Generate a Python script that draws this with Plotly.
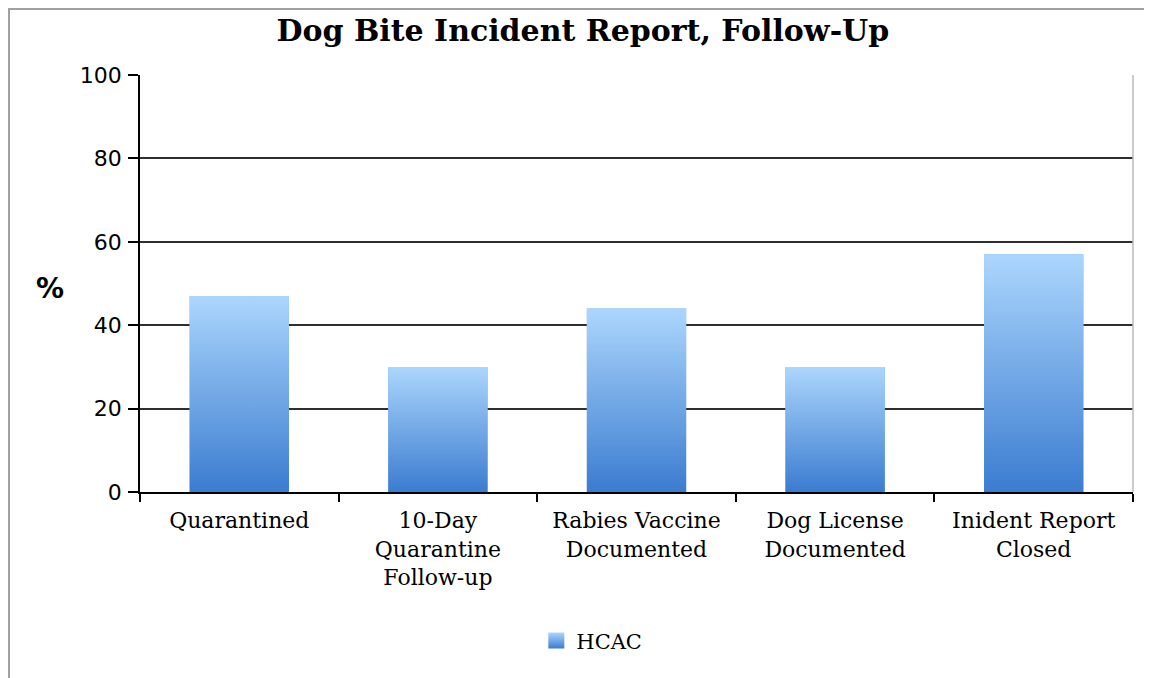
import plotly.graph_objects as go

categories = ["Quarantined", "10-Day<br>Quarantine<br>Follow-up", "Rabies Vaccine<br>Documented",
              "Dog License<br>Documented", "Inident Report<br>Closed"]
hcac_values = [47, 30, 44, 30, 57]
y_ticks = [0, 20, 40, 60, 80, 100]
series_name = "HCAC"

BAR_W = 0.5
DARK = "#3b7cd0"
LIGHT = "#acd6fd"
MID = "#6fa6e4"

positions = list(range(len(categories)))

fig = go.Figure()

# solid bars (data carrier)
fig.add_trace(go.Bar(
    x=positions, y=hcac_values, width=BAR_W, name=series_name,
    marker=dict(color=MID, line=dict(width=0)), showlegend=False,
))

# gradient overlay per bar
for xi, v in zip(positions, hcac_values):
    fig.add_trace(go.Scatter(
        x=[xi - BAR_W / 2, xi + BAR_W / 2, xi + BAR_W / 2, xi - BAR_W / 2, xi - BAR_W / 2],
        y=[0, 0, v, v, 0],
        mode="none", fill="toself",
        fillgradient=dict(type="vertical", colorscale=[[0, DARK], [1, LIGHT]]),
        showlegend=False, hoverinfo="skip",
    ))

# legend swatch (square with gradient)
fig.add_trace(go.Scatter(
    x=[None], y=[None], mode="markers", name=series_name,
    marker=dict(symbol="square", size=16, color=LIGHT,
                gradient=dict(type="vertical", color=DARK), line=dict(width=0)),
))

boundaries = [p - 0.5 for p in positions] + [positions[-1] + 0.5]

fig.update_layout(
    width=1144, height=670,
    margin=dict(l=132, r=19, t=67, b=186),
    paper_bgcolor="white", plot_bgcolor="white",
    title=dict(text="<b>Dog Bite Incident Report, Follow-Up</b>",
               font=dict(family="DejaVu Serif", size=30, color="black"),
               x=0.446, xref="paper", xanchor="center", y=0.967, yanchor="middle"),
    legend=dict(orientation="h", x=0.455, xanchor="center", y=-0.357, yanchor="middle",
                font=dict(family="DejaVu Serif", size=21, color="black"),
                itemwidth=30, bgcolor="rgba(0,0,0,0)"),
    showlegend=True,
    bargap=0.5,
)

fig.update_xaxes(
    range=[-0.5, len(categories) - 0.5],
    tickmode="array", tickvals=positions, ticktext=categories,
    ticks="", showgrid=False, zeroline=False,
    showline=True, linecolor="black", linewidth=1.5,
    ticklabelstandoff=8,
    tickfont=dict(family="DejaVu Serif", size=22, color="black"),
    minor=dict(tickmode="array", tickvals=boundaries, ticks="outside", ticklen=8,
               tickcolor="black", tickwidth=1.5, showgrid=False),
)

fig.update_yaxes(
    range=[0, 100], tickmode="array", tickvals=y_ticks,
    ticks="outside", ticklen=10, tickcolor="black", tickwidth=1.5,
    showgrid=True, gridcolor="#2e2e2e", gridwidth=1.6,
    zeroline=False, showline=True, linecolor="black", linewidth=1.5,
    ticklabelstandoff=2,
    tickfont=dict(family="DejaVu Sans", size=22, color="black"),
)

# "%" axis label
fig.add_annotation(text="<b>%</b>", xref="paper", yref="paper", x=-0.0906, y=0.489,
                   showarrow=False, font=dict(family="DejaVu Sans", size=28, color="black"),
                   xanchor="center", yanchor="middle")

# plot area right border
fig.add_shape(type="line", xref="paper", yref="paper", x0=1, x1=1, y0=0, y1=1,
              line=dict(color="#bbbbbb", width=1.5))

# outer chart frame (partially visible)
fig.add_shape(type="rect", xref="paper", yref="paper", x0=-0.1319, x1=1.05, y0=-0.5, y1=1.158,
              line=dict(color="#a0a0a0", width=2), layer="below")

fig.write_html("out.html")
